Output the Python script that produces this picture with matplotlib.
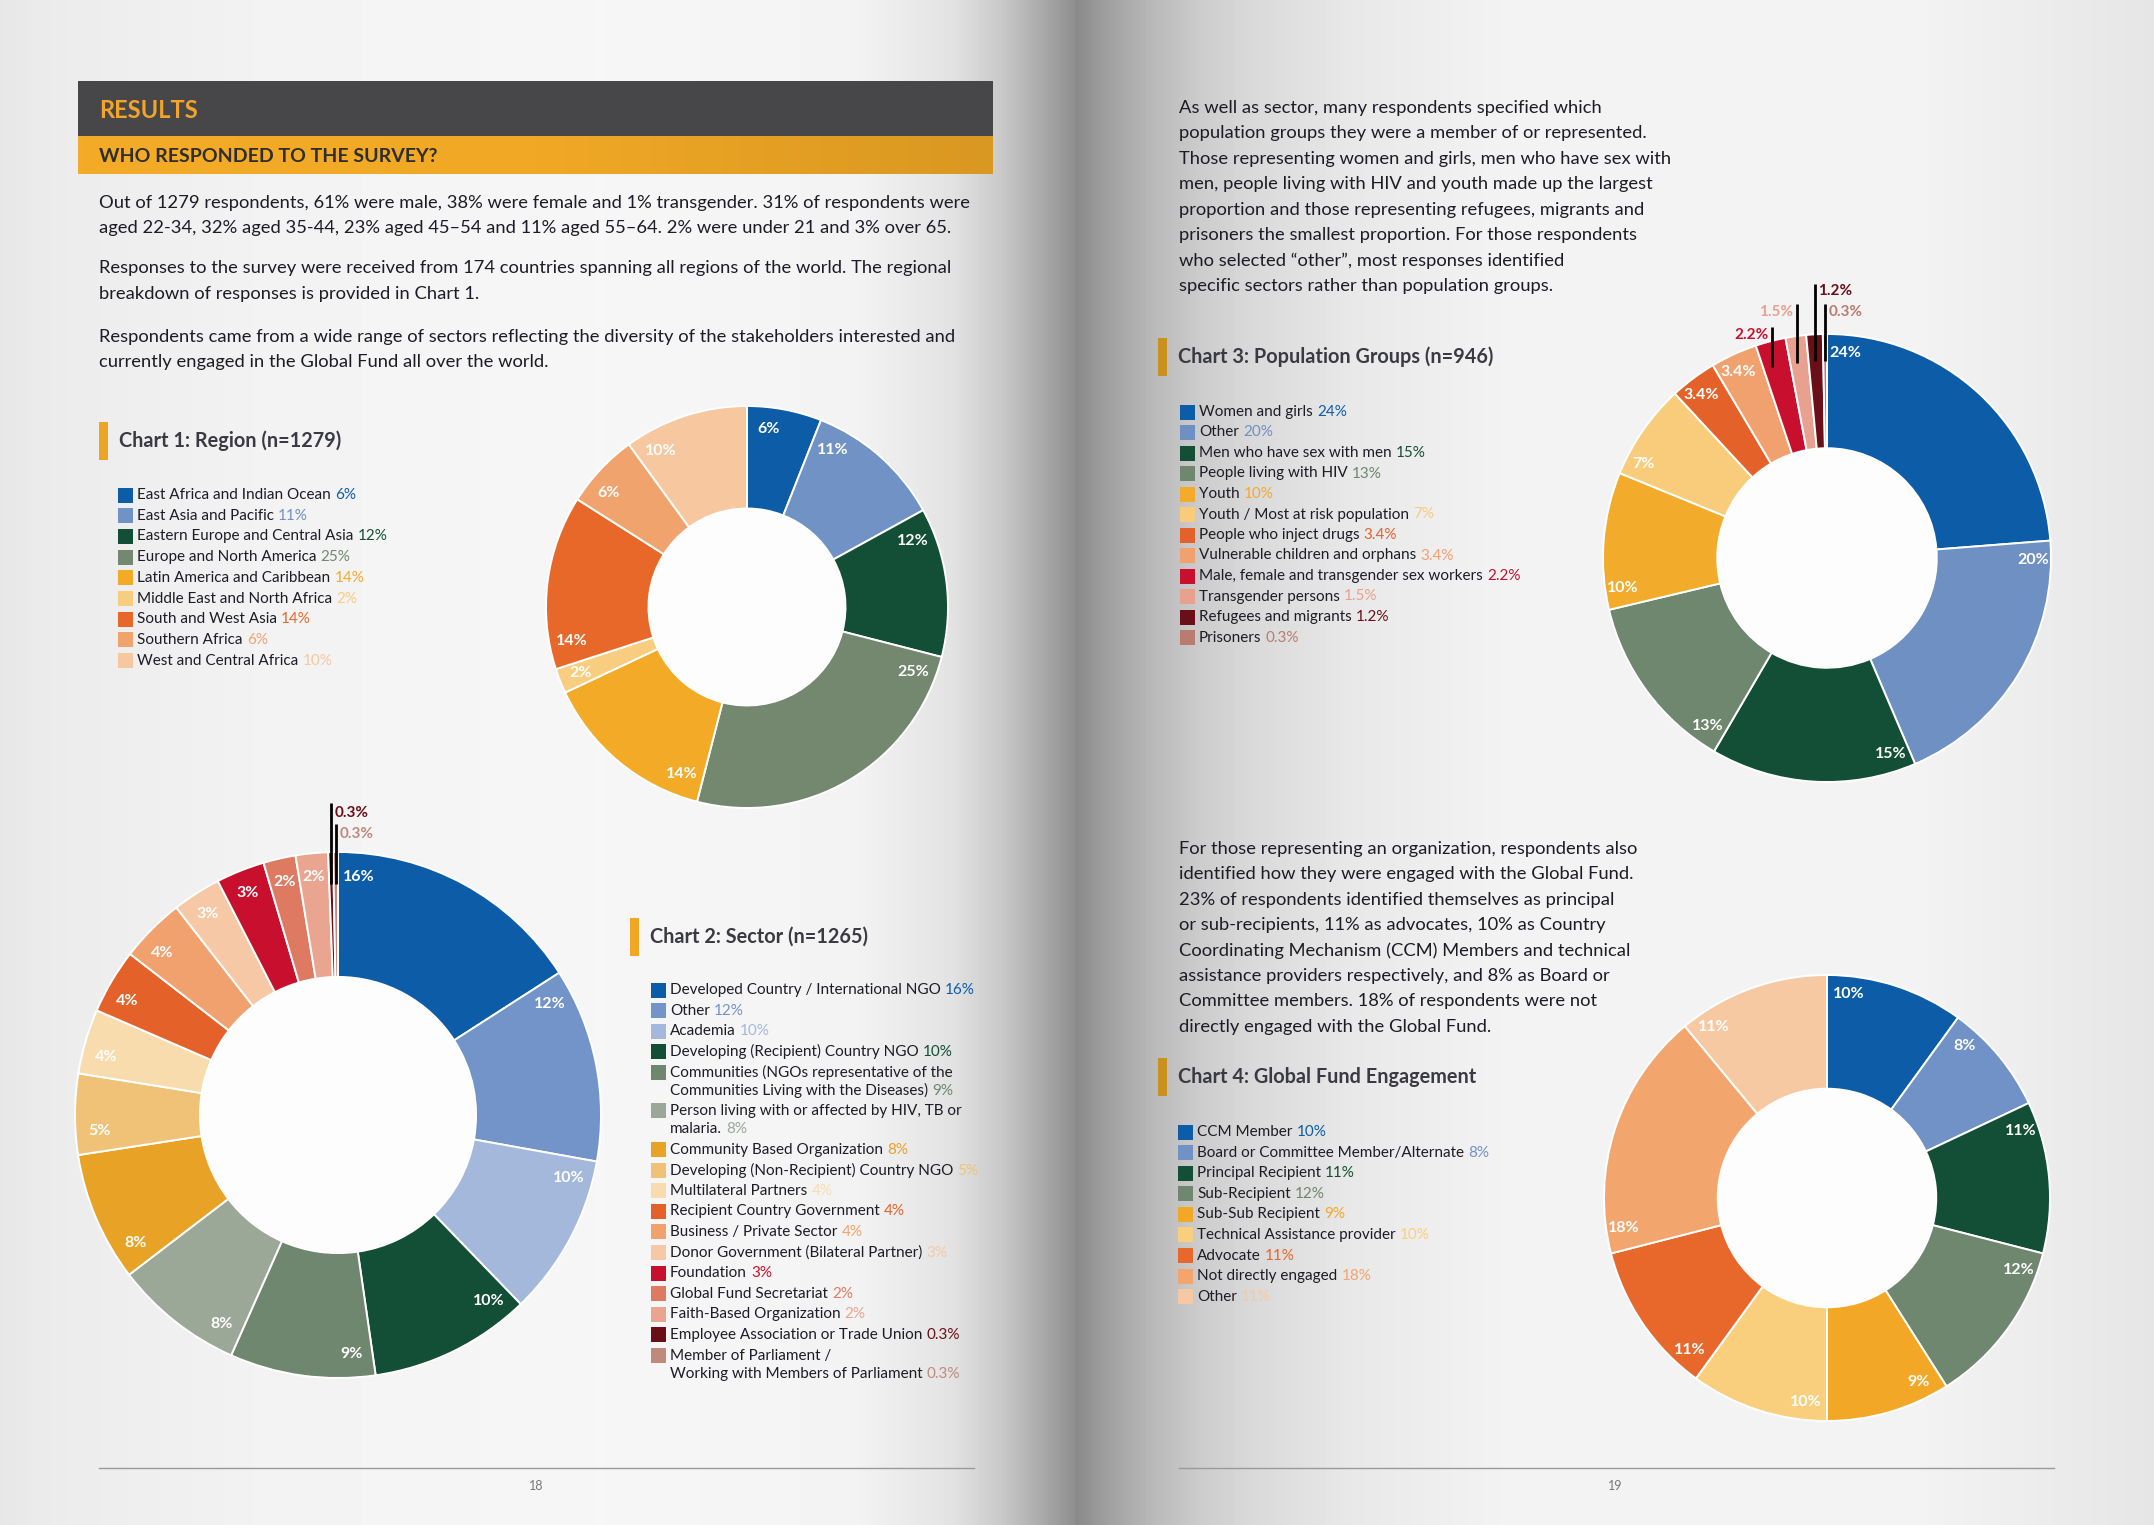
import numpy as np
import matplotlib
matplotlib.use('Agg')
import matplotlib.pyplot as plt
from matplotlib.patches import Rectangle, Circle
from matplotlib.colors import LinearSegmentedColormap

plt.rcParams['font.family'] = ['Lato', 'DejaVu Sans']

W, H = 2154, 1525
TXT = '#1c1c24'

# ---- data ----
region_labels = ['East Africa and Indian Ocean', 'East Asia and Pacific',
                 'Eastern Europe and Central Asia', 'Europe and North America',
                 'Latin America and Caribbean', 'Middle East and North Africa',
                 'South and West Asia', 'Southern Africa', 'West and Central Africa']
region_values = [6, 11, 12, 25, 14, 2, 14, 6, 10]
region_colors = ['#0c5ca8', '#7092c4', '#134f36', '#73886f', '#f2aa27',
                 '#f8cd80', '#e8682a', '#f0a36d', '#f7c7a0']

sector_labels = ['Developed Country / International NGO', 'Other', 'Academia',
                 'Developing (Recipient) Country NGO',
                 'Communities (NGOs representative of the\nCommunities Living with the Diseases)',
                 'Person living with or affected by HIV, TB or\nmalaria.',
                 'Community Based Organization', 'Developing (Non-Recipient) Country NGO',
                 'Multilateral Partners', 'Recipient Country Government',
                 'Business / Private Sector', 'Donor Government (Bilateral Partner)',
                 'Foundation', 'Global Fund Secretariat', 'Faith-Based Organization',
                 'Employee Association or Trade Union',
                 'Member of Parliament /\nWorking with Members of Parliament']
sector_values = [16, 12, 10, 10, 9, 8, 8, 5, 4, 4, 4, 3, 3, 2, 2, 0.3, 0.3]
sector_colors = ['#0c5ca8', '#7394c8', '#a4b8dc', '#134f36', '#6f866f', '#9ba898',
                 '#e8a226', '#f0c277', '#f8dcae', '#e4622a', '#f0a16e', '#f6c8a5',
                 '#c8102e', '#de7a62', '#eaa591', '#6a0f18', '#bf8a7c']

pop_labels = ['Women and girls', 'Other', 'Men who have sex with men',
              'People living with HIV', 'Youth', 'Youth / Most at risk population',
              'People who inject drugs', 'Vulnerable children and orphans',
              'Male, female and transgender sex workers', 'Transgender persons',
              'Refugees and migrants', 'Prisoners']
pop_values = [24, 20, 15, 13, 10, 7, 3.4, 3.4, 2.2, 1.5, 1.2, 0.3]
pop_colors = ['#0c5ca8', '#6f90c2', '#134f36', '#6f866f', '#f2ab2a', '#f8cc7a',
              '#e4622a', '#f0a16e', '#c8102e', '#e8a08f', '#6a0f18', '#b97c70']

eng_labels = ['CCM Member', 'Board or Committee Member/Alternate', 'Principal Recipient',
              'Sub-Recipient', 'Sub-Sub Recipient', 'Technical Assistance provider',
              'Advocate', 'Not directly engaged', 'Other']
eng_values = [10, 8, 11, 12, 9, 10, 11, 18, 11]
eng_colors = ['#0c5ca8', '#7192c6', '#134f36', '#6f866f', '#f2a826', '#f9cf7e',
              '#e8672a', '#f2a56c', '#f7c9a2']

para_left = [
    ['Out of 1279 respondents, 61% were male, 38% were female and 1% transgender. 31% of respondents were',
     'aged 22-34, 32% aged 35-44, 23% aged 45\u201354 and 11% aged 55\u201364. 2% were under 21 and 3% over 65.'],
    ['Responses to the survey were received from 174 countries spanning all regions of the world. The regional',
     'breakdown of responses is provided in Chart 1.'],
    ['Respondents came from a wide range of sectors reflecting the diversity of the stakeholders interested and',
     'currently engaged in the Global Fund all over the world.'],
]
para_right1 = ['As well as sector, many respondents specified which',
               'population groups they were a member of or represented.',
               'Those representing women and girls, men who have sex with',
               'men, people living with HIV and youth made up the largest',
               'proportion and those representing refugees, migrants and',
               'prisoners the smallest proportion. For those respondents',
               'who selected \u201cother\u201d, most responses identified',
               'specific sectors rather than population groups.']
para_right2 = ['For those representing an organization, respondents also',
               'identified how they were engaged with the Global Fund.',
               '23% of respondents identified themselves as principal',
               'or sub-recipients, 11% as advocates, 10% as Country',
               'Coordinating Mechanism (CCM) Members and technical',
               'assistance providers respectively, and 8% as Board or',
               'Committee members. 18% of respondents were not',
               'directly engaged with the Global Fund.']

fig = plt.figure(figsize=(W / 100, H / 100), dpi=100)
page = fig.add_axes([0, 0, 1, 1])
page.set_xlim(0, W)
page.set_ylim(H, 0)
page.axis('off')

# page background with the gutter shadow
gx = [0, 60, 300, 600, 850, 950, 1000, 1040, 1074, 1076, 1100, 1150, 1200, 1250, 1350, 1500, 1900, 2154]
gv = [0.905, 0.925, 0.955, 0.965, 0.955, 0.89, 0.79, 0.67, 0.56, 0.54, 0.61, 0.72, 0.80, 0.85, 0.91, 0.95, 0.955, 0.90]
xs = np.arange(W)
bg = np.interp(xs, gx, gv)[None, :]
page.imshow(bg, cmap='gray', vmin=0, vmax=1, extent=[0, W, H, 0], aspect='auto', zorder=0)

# header bars
page.add_patch(Rectangle((78, 81), 915, 55, color='#47474a', lw=0, zorder=1))
orange = LinearSegmentedColormap.from_list('o', ['#f4ab27', '#f1a825', '#d99822'])
page.imshow(np.linspace(0, 1, 200)[None, :], cmap=orange, extent=[78, 993, 174, 136],
            aspect='auto', zorder=1)
page.text(99, 110, 'RESULTS', fontsize=17, fontweight='bold', color='#f2a52a',
          va='center', ha='left', zorder=2)
page.text(99, 156, 'WHO RESPONDED TO THE SURVEY?', fontsize=14, fontweight='bold',
          color='#2e2e2e', va='center', ha='left', zorder=2)

# paragraphs
for (y0, lines) in zip([203, 268, 337], para_left):
    for k, ln in enumerate(lines):
        page.text(99, y0 + k * 25.5, ln, fontsize=13.2, color=TXT, va='center', ha='left')
for k, ln in enumerate(para_right1):
    page.text(1179, 108 + k * 25.4, ln, fontsize=13.2, color=TXT, va='center', ha='left')
for k, ln in enumerate(para_right2):
    page.text(1179, 849 + k * 25.4, ln, fontsize=13.2, color=TXT, va='center', ha='left')


def chart_title(x_bar, y, text, bar_color):
    page.add_patch(Rectangle((x_bar, y - 19), 9, 38, color=bar_color, lw=0))
    page.text(x_bar + 20, y, text, fontsize=14.3, fontweight='bold', color='#3a3a42',
              va='center', ha='left')


def legend(x_sq, y0, labels, values, colors, pitch=20.6, line=18, fs=11):
    y = y0
    for lab, v, c in zip(labels, values, colors):
        lines = lab.split('\n')
        page.add_patch(Rectangle((x_sq, y - 7.5), 15, 15, color=c, lw=0))
        for k, ln in enumerate(lines):
            t = page.text(x_sq + 19, y + k * line, ln, fontsize=fs, color=TXT,
                          va='center', ha='left')
        page.annotate(f'{v:g}%', xy=(1, 0), xycoords=t, xytext=(3, 0),
                      textcoords='offset points', fontsize=fs, color=c,
                      va='bottom', ha='left')
        y += (len(lines) - 1) * line + pitch


def donut(cx, cy, r, values, colors, hole, lab_r=0.91, lab_off=6, callouts=(), fs=11.5):
    pad = 1.35
    ax = fig.add_axes([(cx - pad * r) / W, 1 - (cy + pad * r) / H, 2 * pad * r / W, 2 * pad * r / H])
    ax.pie(values, colors=colors, startangle=90, counterclock=False, radius=1,
           wedgeprops=dict(width=1 - hole, edgecolor='white', linewidth=1.4))
    ax.add_patch(Circle((0, 0), hole - 0.005, color='#fdfdfd', zorder=0))
    ax.set_xlim(-pad, pad)
    ax.set_ylim(-pad, pad)
    ax.set_aspect('equal')
    ax.axis('off')
    vals = np.array(values, dtype=float)
    frac = vals / vals.sum()
    start = np.concatenate([[0], np.cumsum(frac)[:-1]]) * 360
    width = frac * 360
    called = [c[0] for c in callouts]
    for i, v in enumerate(values):
        if i in called:
            continue
        a = np.radians(start[i] + min(lab_off, width[i] / 2))
        ax.text(lab_r * np.sin(a), lab_r * np.cos(a), f'{v:g}%', ha='center', va='center',
                color='white', fontsize=fs, fontweight='bold')
    for i, ty, side in callouts:
        a = np.radians(start[i] + width[i] / 2)
        lx = 0.97 * np.sin(a)
        ax.plot([lx, lx], [0.88 * np.cos(a), ty + 0.035], color='black', lw=2, zorder=5,
                solid_capstyle='butt')
        if side == 'left':
            ax.text(lx - 0.015, ty, f'{values[i]:g}%', ha='right', va='center',
                    color=colors[i], fontsize=fs - 0.5, fontweight='bold')
        else:
            ax.text(lx + 0.015, ty, f'{values[i]:g}%', ha='left', va='center',
                    color=colors[i], fontsize=fs - 0.5, fontweight='bold')


# chart 1
chart_title(99, 441, 'Chart 1: Region (n=1279)', '#eca424')
legend(118, 495, region_labels, region_values, region_colors, pitch=20.7)
donut(747, 607, 201, region_values, region_colors, 0.49, lab_r=0.89, lab_off=7)

# chart 2
chart_title(630, 937, 'Chart 2: Sector (n=1265)', '#f0a822')
legend(651, 990, sector_labels, sector_values, sector_colors)
donut(338, 1115, 263, sector_values, sector_colors, 0.525, lab_r=0.91, lab_off=5,
      callouts=[(15, 1.15, 'right'), (16, 1.07, 'right')])

# chart 3
chart_title(1158, 357, 'Chart 3: Population Groups (n=946)', '#c9921f')
legend(1180, 412, pop_labels, pop_values, pop_colors, pitch=20.5)
donut(1827, 558, 224, pop_values, pop_colors, 0.49, lab_r=0.92, lab_off=5,
      callouts=[(8, 0.995, 'left'), (9, 1.10, 'left'), (10, 1.19, 'right'), (11, 1.10, 'right')])

# chart 4
chart_title(1158, 1077, 'Chart 4: Global Fund Engagement', '#c9921f')
legend(1178, 1132, eng_labels, eng_values, eng_colors)
donut(1827, 1198, 223, eng_values, eng_colors, 0.49, lab_r=0.92, lab_off=6)

# footers
page.plot([99, 974], [1468, 1468], color='#9a9a9a', lw=1)
page.plot([1179, 2054], [1468, 1468], color='#9a9a9a', lw=1)
page.text(536, 1486, '18', fontsize=9, color='#777777', ha='center', va='center')
page.text(1615, 1486, '19', fontsize=9, color='#777777', ha='center', va='center')

fig.savefig('out.png', dpi=100)
